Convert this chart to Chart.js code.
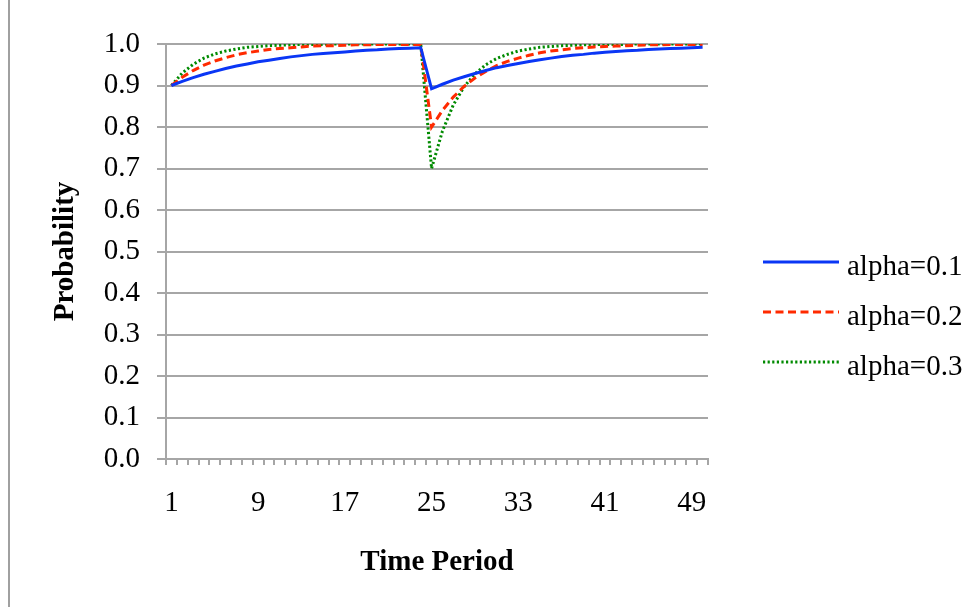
<!DOCTYPE html>
<html>
<head>
<meta charset="utf-8">
<script src="https://cdn.jsdelivr.net/npm/chart.js@4.4.1/dist/chart.umd.min.js"></script>
<style>
  html, body { margin: 0; padding: 0; background: #fff; }
  #wrap { position: relative; width: 980px; height: 607px; }
</style>
</head>
<body>
<div id="wrap"><canvas id="chart" width="980" height="607"></canvas></div>
<script>
const periods = Array.from({length: 50}, (_, i) => String(i + 1));

const alpha01 = [0.900, 0.910, 0.919, 0.927, 0.934, 0.941, 0.947, 0.952, 0.957, 0.961,
  0.965, 0.969, 0.972, 0.975, 0.977, 0.979, 0.981, 0.983, 0.985, 0.986,
  0.988, 0.989, 0.990, 0.991, 0.892, 0.903, 0.913, 0.921, 0.929, 0.936,
  0.943, 0.948, 0.953, 0.958, 0.962, 0.966, 0.970, 0.973, 0.975, 0.978,
  0.980, 0.982, 0.984, 0.985, 0.987, 0.988, 0.989, 0.990, 0.991, 0.992];

const alpha02 = [0.900, 0.920, 0.936, 0.949, 0.959, 0.967, 0.974, 0.979, 0.983, 0.987,
  0.989, 0.991, 0.993, 0.995, 0.996, 0.996, 0.997, 0.998, 0.998, 0.999,
  0.999, 0.999, 0.999, 0.999, 0.800, 0.840, 0.872, 0.898, 0.918, 0.934,
  0.948, 0.958, 0.966, 0.973, 0.979, 0.983, 0.986, 0.989, 0.991, 0.993,
  0.994, 0.995, 0.996, 0.997, 0.998, 0.998, 0.999, 0.999, 0.999, 0.999];

const alpha03 = [0.900, 0.930, 0.951, 0.966, 0.976, 0.983, 0.988, 0.992, 0.994, 0.996,
  0.997, 0.998, 0.999, 0.999, 0.999, 1.000, 1.000, 1.000, 1.000, 1.000,
  1.000, 1.000, 1.000, 1.000, 0.700, 0.790, 0.853, 0.897, 0.928, 0.950,
  0.965, 0.975, 0.983, 0.988, 0.992, 0.994, 0.996, 0.997, 0.998, 0.999,
  0.999, 0.999, 0.999, 1.000, 1.000, 1.000, 1.000, 1.000, 1.000, 1.000];

const seriesNames = ['alpha=0.1', 'alpha=0.2', 'alpha=0.3'];
const shownTicks = ['1', '9', '17', '25', '33', '41', '49'];

const serif = '"Liberation Serif", "Times New Roman", serif';
const gridGray = '#a6a6a6';
const fontSize = 29;

// legend drawn by hand so the samples are real line segments
const sideLegend = {
  id: 'sideLegend',
  afterDraw(chart) {
    const ctx = chart.ctx;
    const area = chart.chartArea;
    ctx.save();
    chart.data.datasets.forEach((ds, i) => {
      const y = area.top + 218 + i * 50;
      const x0 = area.right + 55;
      ctx.strokeStyle = ds.borderColor;
      ctx.lineWidth = ds.borderWidth;
      ctx.setLineDash(ds.borderDash || []);
      ctx.lineCap = ds.borderCapStyle || 'butt';
      ctx.beginPath();
      ctx.moveTo(x0, y);
      ctx.lineTo(x0 + 76, y);
      ctx.stroke();
      ctx.setLineDash([]);
      ctx.fillStyle = '#000';
      ctx.font = fontSize + 'px ' + serif;
      ctx.textBaseline = 'middle';
      ctx.fillText(ds.label, x0 + 84, y + 5);
    });
    // chart border on the left
    ctx.strokeStyle = '#a0a0a0';
    ctx.lineWidth = 2;
    ctx.beginPath();
    ctx.moveTo(9, 0);
    ctx.lineTo(9, 607);
    ctx.stroke();
    ctx.restore();
  }
};

new Chart(document.getElementById('chart'), {
  type: 'line',
  data: {
    labels: periods,
    datasets: [
      { label: seriesNames[0], data: alpha01, borderColor: '#0a36f5', borderWidth: 3, pointRadius: 0, tension: 0 },
      { label: seriesNames[1], data: alpha02, borderColor: '#ff2a00', borderWidth: 3, borderDash: [8, 4.5], pointRadius: 0, tension: 0 },
      { label: seriesNames[2], data: alpha03, borderColor: '#008a00', borderWidth: 3, borderDash: [2.2, 2.4], pointRadius: 0, tension: 0 }
    ]
  },
  options: {
    responsive: false,
    animation: false,
    layout: { padding: { left: 0, right: 272, top: 44, bottom: 0 } },
    plugins: {
      legend: { display: false },
      tooltip: { enabled: false }
    },
    scales: {
      x: {
        offset: true,
        afterFit: s => { s.height = 148; },
        grid: { display: true, drawOnChartArea: false, offset: true, color: gridGray, lineWidth: 2, tickLength: 6 },
        border: { color: gridGray, width: 2 },
        ticks: {
          autoSkip: false,
          maxRotation: 0,
          padding: 21,
          color: '#000',
          font: { family: serif, size: fontSize },
          callback(value) {
            const lab = this.getLabelForValue(value);
            return shownTicks.includes(lab) ? lab : '';
          }
        },
        title: {
          display: true,
          text: 'Time Period',
          color: '#000',
          font: { family: serif, size: fontSize, weight: 'bold' },
          padding: { top: 0, bottom: 27 }
        }
      },
      y: {
        min: 0,
        max: 1,
        afterFit: s => { s.width = 166; },
        grid: { color: gridGray, lineWidth: 2, tickLength: 9 },
        border: { color: gridGray, width: 2 },
        ticks: {
          stepSize: 0.1,
          padding: 17,
          color: '#000',
          font: { family: serif, size: fontSize },
          callback: v => v.toFixed(1)
        },
        title: {
          display: true,
          text: 'Probability',
          color: '#000',
          font: { family: serif, size: fontSize, weight: 'bold' },
          padding: { top: 48, bottom: 0 }
        }
      }
    }
  },
  plugins: [sideLegend]
});
</script>
</body>
</html>
